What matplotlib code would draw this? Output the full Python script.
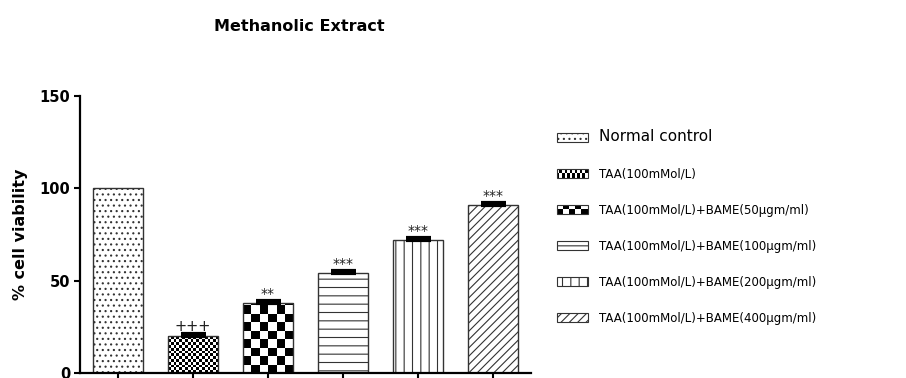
import numpy as np
import matplotlib
matplotlib.use('Agg')
import matplotlib.pyplot as plt
from matplotlib.patches import Rectangle, Patch
from matplotlib.legend_handler import HandlerBase

plt.rcParams['font.family'] = ['DejaVu Sans']
plt.rcParams['hatch.linewidth'] = 0.8

# --- Data ---
GROUPS = [
    'Normal control',
    'TAA(100mMol/L)',
    'TAA(100mMol/L)+BAME(50µgm/ml)',
    'TAA(100mMol/L)+BAME(100µgm/ml)',
    'TAA(100mMol/L)+BAME(200µgm/ml)',
    'TAA(100mMol/L)+BAME(400µgm/ml)',
]
VIABILITY = [100, 20, 38, 54, 72, 91]
SEM = [0, 1, 1, 1, 1, 1]
SIG_MARKS = ['', '+++', '**', '***', '***', '***']
Y_TICKS = [0, 50, 100, 150]

# --- Styles ---
HATCHES = ['...', None, None, '--', '||', '////']
# checkerboard fills: (columns across bar, rows per 10 units of y)
CHECKERS = {1: (18, 6.6), 2: (6, 2.2)}
LEGEND_CHECKERS = {1: (12, 2), 2: (5, 2)}
EDGE = '#333333'
BAR_W = 0.667


class CheckerHandler(HandlerBase):
    # small checkerboard for legend handles (hatch has no checker pattern)
    def __init__(self, ncols, nrows):
        super().__init__()
        self.ncols, self.nrows = ncols, nrows

    def create_artists(self, legend, orig_handle, xdescent, ydescent,
                       width, height, fontsize, trans):
        arts = []
        cw, ch = width / self.ncols, height / self.nrows
        for r in range(self.nrows):
            for c in range(self.ncols):
                if (r + c) % 2 == 0:
                    arts.append(Rectangle((-xdescent + c * cw, -ydescent + r * ch), cw, ch,
                                          facecolor='black', edgecolor='none', transform=trans))
        arts.append(Rectangle((-xdescent, -ydescent), width, height, fill=False,
                              edgecolor=EDGE, lw=0.8, transform=trans))
        return arts


fig = plt.figure(figsize=(9.06, 3.78), dpi=100)
ax = fig.add_axes([0.0883, 0.0132, 0.4978, 0.733])

x = np.arange(len(GROUPS))
bars = ax.bar(x, VIABILITY, width=BAR_W, color='white', edgecolor=EDGE,
              linewidth=1.0, zorder=2)
for i, b in enumerate(bars):
    if HATCHES[i]:
        b.set_hatch(HATCHES[i])
    if i in CHECKERS:
        ncols, rows_per10 = CHECKERS[i]
        nrows = int(np.ceil(VIABILITY[i] / 10 * rows_per10)) + 1
        grid = np.add.outer(np.arange(nrows), np.arange(ncols)) % 2
        b.set_facecolor('none')
        im = ax.imshow(grid, cmap='gray_r', interpolation='nearest', aspect='auto',
                       extent=(x[i] - BAR_W / 2, x[i] + BAR_W / 2, 0, nrows * 10 / rows_per10),
                       origin='lower', zorder=1.9)
        im.set_clip_path(b)

# error bars (upper only) drawn as thick caps
ax.errorbar(x[1:], VIABILITY[1:], yerr=[np.zeros(len(x) - 1), SEM[1:]], fmt='none',
            ecolor='black', elinewidth=1.5, capsize=9, capthick=3, zorder=3)

for i, mark in enumerate(SIG_MARKS):
    if mark:
        fs = 10.5 if mark.startswith('+') else 10
        ax.text(x[i], VIABILITY[i] + SEM[i] + 0.2, mark, ha='center', va='bottom',
                fontsize=fs, color='#222222', zorder=4)

ax.set_xlim(-0.5, 5.5)
ax.set_ylim(0, 150)
ax.set_yticks(Y_TICKS)
ax.set_xticks(x)
ax.set_xticklabels([])
for lab in ax.get_yticklabels():
    lab.set_fontweight('bold')
ax.tick_params(axis='both', direction='out', length=4, width=1.5, labelsize=10.5, pad=3)
for s in ['top', 'right']:
    ax.spines[s].set_visible(False)
for s in ['left', 'bottom']:
    ax.spines[s].set_linewidth(1.6)
ax.set_ylabel('% cell viability', fontsize=11.5, fontweight='bold', labelpad=8)

fig.text(0.33, 0.93, 'Methanolic Extract', ha='center', va='center',
         fontsize=11.5, fontweight='bold')

# legend
handles = []
hmap = {}
for i, g in enumerate(GROUPS):
    h = Patch(facecolor='white', edgecolor=EDGE, hatch=HATCHES[i], linewidth=0.8, label=g)
    handles.append(h)
    if i in LEGEND_CHECKERS:
        hmap[h] = CheckerHandler(*LEGEND_CHECKERS[i])
leg = fig.legend(handles=handles, handler_map=hmap, loc='upper left',
                 bbox_to_anchor=(0.6094, 0.67), frameon=False, fontsize=8.5,
                 handlelength=2.6, handleheight=0.8, handletextpad=1.0,
                 labelspacing=1.95, borderaxespad=0)
leg.get_texts()[0].set_fontsize(11)

fig.savefig('out.png', dpi=100)
